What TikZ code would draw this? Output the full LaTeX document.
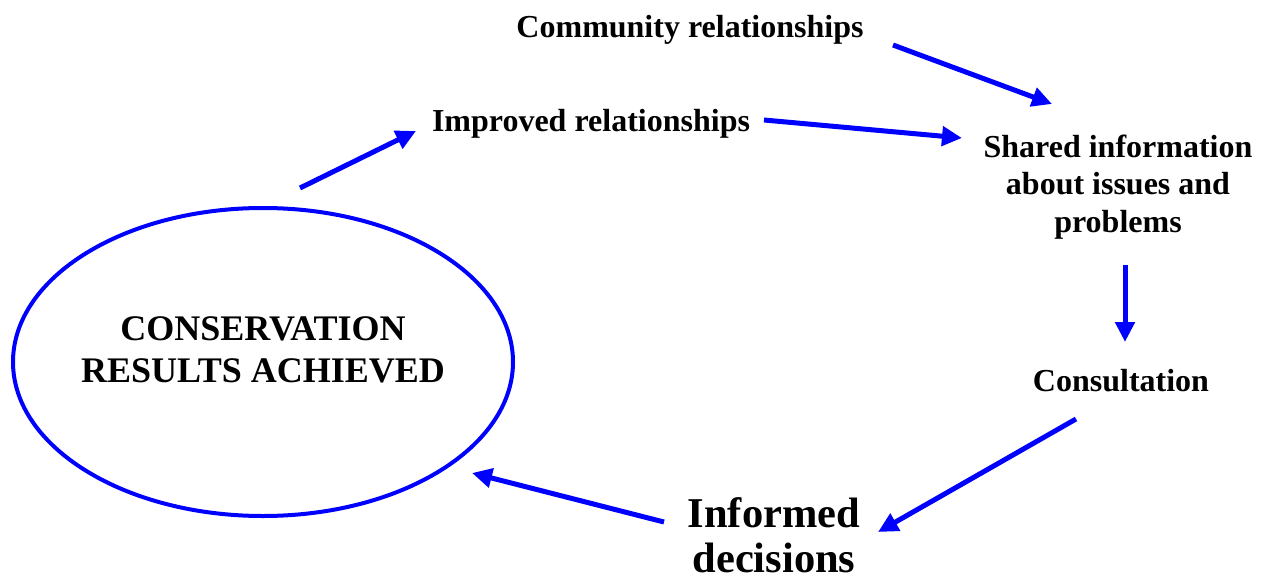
\documentclass[tikz,border=0pt]{standalone}
\usepackage{fontspec}
\setmainfont{Liberation Serif}
\usetikzlibrary{arrows.meta}
\definecolor{arrblue}{RGB}{0,0,255}
\begin{document}
\begin{tikzpicture}[x=1pt,y=-1pt,
  lbl/.style={font=\bfseries, inner sep=0pt, anchor=base, align=center},
  conn/.style={draw=arrblue, line width=5pt, -{Triangle[length=20pt,width=19pt]}}]
\useasboundingbox (0,0) rectangle (1261,578);
\draw[arrblue, line width=4pt] (263,362) ellipse [x radius=250, y radius=154];
\node[lbl, font=\bfseries\fontsize{36}{42}\selectfont] (cons) at (263,382) {CONSERVATION\\RESULTS ACHIEVED};
\node[lbl, font=\bfseries\fontsize{32}{37}\selectfont] (comm) at (690,38) {Community relationships};
\node[lbl, font=\bfseries\fontsize{32}{37}\selectfont] (impr) at (591,131) {Improved relationships};
\node[lbl, font=\bfseries\fontsize{32}{37.5}\selectfont] (shared) at (1118,232) {Shared information\\about issues and\\problems};
\node[lbl, font=\bfseries\fontsize{32}{37}\selectfont] (consult) at (1121,391) {Consultation};
\node[lbl, font=\bfseries\fontsize{42.5}{45}\selectfont] (inf) at (774,572) {Informed\\decisions};
\coordinate (a1s) at (300,188); \coordinate (a1e) at (416,131);
\coordinate (a2s) at (764,120); \coordinate (a2e) at (962,138);
\coordinate (a3s) at (893,45);  \coordinate (a3e) at (1052,104);
\coordinate (a4s) at (1125,265); \coordinate (a4e) at (1125,342);
\coordinate (a5s) at (1076,419); \coordinate (a5e) at (878,532);
\coordinate (a6s) at (664,522); \coordinate (a6e) at (472,473);
\draw[conn] (a1s) -- (a1e);
\draw[conn] (a2s) -- (a2e);
\draw[conn] (a3s) -- (a3e);
\draw[conn] (a4s) -- (a4e);
\draw[conn] (a5s) -- (a5e);
\draw[conn] (a6s) -- (a6e);
\end{tikzpicture}
\end{document}
